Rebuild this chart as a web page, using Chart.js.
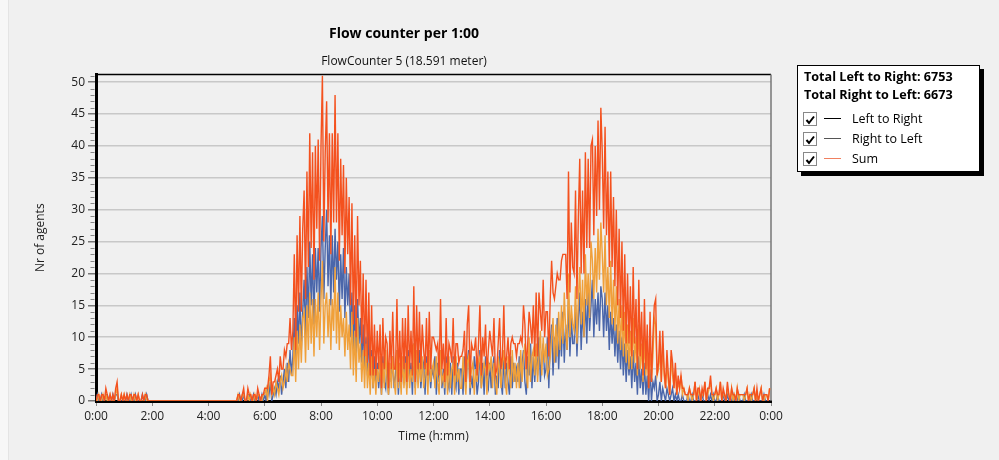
<!DOCTYPE html>
<html>
<head>
<meta charset="utf-8">
<title>Flow counter per 1:00</title>
<script src="https://cdn.jsdelivr.net/npm/chart.js@4.4.1/dist/chart.umd.min.js"></script>
<style>
  html, body { margin: 0; padding: 0; background: #f0f0f0; }
  body { width: 999px; height: 460px; position: relative; overflow: hidden; font-family: "Open Sans", sans-serif; color: #000; }
  #strip { position: absolute; left: 0; top: 0; width: 8px; height: 460px; background: #f7f7f7; border-right: 1px solid #e4e4e4; }
  #wrap { position: absolute; left: 0; top: 0; width: 999px; height: 460px; }
  .title { position: absolute; left: 204px; width: 400px; text-align: center; white-space: nowrap; }
  #t1 { top: 23px; font-weight: bold; font-size: 14px; line-height: 20px; }
  #t2 { top: 53px; font-size: 12px; line-height: 16px; color: #111; }
  #legend { position: absolute; left: 797px; top: 65px; width: 181px; height: 105px; background: #fff; border: 1px solid #000; box-shadow: 4px 4px 0 #000; font-size: 12px; }
  #legend .tot { position: absolute; left: 6px; font-weight: bold; font-size: 12.6px; line-height: 16px; white-space: nowrap; }
  #legend .row { position: absolute; left: 5px; height: 16px; width: 170px; }
  #legend .box { position: absolute; left: 0; top: 1px; width: 12px; height: 12px; border: 1px solid #888; background: #fff; }
  #legend .line { position: absolute; left: 21px; top: 7px; width: 17px; height: 1px; }
  #legend .lbl { position: absolute; left: 49px; top: 0; line-height: 16px; font-size: 12.5px; white-space: nowrap; }
</style>
</head>
<body>
<div id="strip"></div>
<div id="wrap"><canvas id="flowChart"></canvas></div>
<div class="title" id="t1">Flow counter per 1:00</div>
<div class="title" id="t2">FlowCounter 5 (18.591 meter)</div>
<div id="legend">
  <div class="tot" style="top:3px">Total Left to Right: 6753</div>
  <div class="tot" style="top:21px">Total Right to Left: 6673</div>
  <div class="row" style="top:45px"><div class="box"><svg width="12" height="12"><polyline points="2.5,6 5,9 10,2.5" fill="none" stroke="#000" stroke-width="2"/></svg></div><div class="line" style="background:#000"></div><div class="lbl">Left to Right</div></div>
  <div class="row" style="top:65px"><div class="box"><svg width="12" height="12"><polyline points="2.5,6 5,9 10,2.5" fill="none" stroke="#000" stroke-width="2"/></svg></div><div class="line" style="background:#555"></div><div class="lbl">Right to Left</div></div>
  <div class="row" style="top:85px"><div class="box"><svg width="12" height="12"><polyline points="2.5,6 5,9 10,2.5" fill="none" stroke="#000" stroke-width="2"/></svg></div><div class="line" style="background:#f08060"></div><div class="lbl">Sum</div></div>
</div>
<script>
// one value every 3 minutes, one line per hour (agents per minute)
const stepMinutes = 3;

const leftToRight = [
  0,1,0,0,1,0,0,1,1,0,0,0,1,0,1,1,0,0,0,0,
  0,0,1,0,0,1,0,0,1,0,0,0,0,1,0,0,1,0,0,0,
  0,0,0,0,0,0,0,0,0,0,0,0,0,0,0,0,0,0,0,0,
  0,0,0,0,0,0,0,0,0,0,0,0,0,0,0,0,0,0,0,0,
  0,0,0,0,0,0,0,0,0,0,0,0,0,0,0,0,0,0,0,0,
  0,0,1,0,0,1,0,0,1,1,0,0,1,0,0,1,0,0,1,0,
  1,0,2,1,3,0,1,2,1,3,2,4,1,3,5,2,6,3,8,4,
  7,13,5,15,9,17,8,14,19,10,21,13,25,15,23,12,24,17,24,14,
  24,29,16,24,30,18,26,15,26,17,27,19,25,14,23,16,24,13,21,15,
  20,10,17,8,15,7,16,9,13,6,12,5,10,4,11,3,8,2,7,3,
  6,2,5,1,7,3,2,6,1,5,3,7,2,4,8,1,5,2,6,3,
  7,2,8,3,6,1,9,2,7,3,8,2,5,6,1,7,3,6,2,5,
  4,7,1,6,3,8,2,5,1,7,3,2,6,1,7,3,2,6,1,5,
  5,1,7,2,6,8,1,4,2,7,5,1,3,8,2,6,1,7,3,2,
  6,2,5,7,1,4,2,8,3,1,7,2,6,3,1,7,2,6,3,5,
  3,7,2,6,8,3,1,7,4,9,2,7,3,8,4,10,3,7,9,4,
  5,10,2,9,12,4,10,6,13,5,11,7,14,6,12,8,16,7,13,9,
  9,15,7,13,17,8,14,10,16,9,18,11,15,19,10,16,12,17,11,18,
  16,10,17,11,15,8,14,9,13,7,12,6,11,5,10,4,9,3,8,4,
  7,2,8,3,6,1,7,2,5,1,6,1,4,0,5,0,3,2,4,0,
  1,3,0,2,1,0,2,1,0,1,2,0,1,0,1,0,0,1,0,0,
  0,1,0,0,1,0,0,0,1,0,0,1,0,0,0,1,0,1,0,1,
  0,0,1,0,0,0,1,0,0,1,0,0,0,1,0,0,0,1,0,0,
  0,1,0,0,0,0,1,0,0,0,1,0,0,0,0,1,0,0,0,0
];

const rightToLeft = [
  0,0,1,0,0,1,0,1,0,0,1,0,0,0,1,2,0,0,1,0,
  1,0,0,0,1,0,0,1,0,0,1,0,0,0,0,1,0,0,0,0,
  0,0,0,0,0,0,0,0,0,0,0,0,0,0,0,0,0,0,0,0,
  0,0,0,0,0,0,0,0,0,0,0,0,0,0,0,0,0,0,0,0,
  0,0,0,0,0,0,0,0,0,0,0,0,0,0,0,0,0,0,0,0,
  0,1,0,0,1,1,0,0,1,0,1,0,0,1,0,1,1,0,0,1,
  1,2,0,3,4,1,2,1,3,2,1,3,4,2,3,5,3,6,5,4,
  4,10,3,11,5,12,6,13,14,6,15,8,17,9,16,7,16,10,17,8,
  16,22,9,15,17,10,16,8,16,11,21,9,17,8,15,10,13,7,14,8,
  12,5,14,4,11,3,13,6,9,3,8,2,9,2,6,1,7,2,5,1,
  5,3,7,1,6,2,8,3,1,6,2,7,3,1,8,2,6,1,7,2,
  6,1,7,2,5,3,9,1,8,2,6,3,7,2,4,6,1,8,3,5,
  6,2,7,3,1,8,3,4,2,6,1,7,2,5,6,1,7,3,5,2,
  2,7,4,1,6,7,2,5,6,1,5,3,6,7,2,4,6,5,1,6,
  5,7,2,6,3,1,7,5,2,6,8,3,1,7,4,2,8,3,6,2,
  6,2,8,3,7,9,4,2,10,3,7,8,4,9,3,7,11,4,10,6,
  9,4,5,7,10,13,6,12,7,14,8,15,9,17,11,8,20,10,15,12,
  11,18,9,16,21,12,19,10,23,15,20,13,25,22,16,24,17,27,19,28,
  23,17,26,15,21,13,22,12,19,11,18,9,16,8,15,7,14,6,12,5,
  11,5,13,6,10,4,12,5,9,3,10,4,8,2,9,3,7,13,12,4,
  5,8,3,9,4,2,6,3,1,7,4,2,5,1,3,2,4,1,2,1,
  1,0,2,1,0,1,3,0,1,2,0,1,1,3,0,1,2,3,1,0,
  1,2,0,1,3,0,1,1,0,2,1,0,2,0,1,0,2,0,1,1,
  1,0,1,2,0,1,0,1,2,0,1,0,1,2,0,0,1,1,0,2
];

const tickLabels = ["0:00","2:00","4:00","6:00","8:00","10:00","12:00","14:00","16:00","18:00","20:00","22:00","0:00"];

const sum = leftToRight.map((v, i) => v + rightToLeft[i]);
const toPoints = (arr) => arr.map((v, i) => ({ x: i * stepMinutes, y: v }));

// top / right frame and the small minor ticks on the y axis
const frame = {
  id: "frame",
  beforeDatasetsDraw(chart) {
    const { ctx, chartArea: a, scales: { y } } = chart;
    ctx.save();
    ctx.strokeStyle = "#000";
    ctx.lineWidth = 1.5;
    ctx.beginPath();
    ctx.moveTo(a.left, a.top);
    ctx.lineTo(a.right, a.top);
    ctx.stroke();
    ctx.strokeStyle = "#777";
    ctx.beginPath();
    ctx.moveTo(a.right, a.top);
    ctx.lineTo(a.right, a.bottom);
    ctx.stroke();
    ctx.lineWidth = 1;
    ctx.strokeStyle = "#888";
    for (let v = 1; v <= 51; v++) {
      if (v % 5 === 0) continue;
      const py = Math.round(y.getPixelForValue(v)) + 0.5;
      ctx.beginPath();
      ctx.moveTo(a.left - 5.5, py);
      ctx.lineTo(a.left - 1.5, py);
      ctx.stroke();
    }
    ctx.restore();
  },
};

const font = { family: "'Open Sans', sans-serif", size: 12 };

new Chart(document.getElementById("flowChart"), {
  type: "line",
  data: {
    datasets: [
      { label: "Sum", data: toPoints(sum), borderColor: "#f4511e", borderWidth: 1.4 },
      { label: "Right to Left", data: toPoints(rightToLeft), borderColor: "#f0a03a", borderWidth: 1.4 },
      { label: "Left to Right", data: toPoints(leftToRight), borderColor: "#4a66aa", borderWidth: 1.4 },
    ],
  },
  options: {
    responsive: true,
    maintainAspectRatio: false,
    animation: false,
    elements: { point: { radius: 0 }, line: { tension: 0 } },
    layout: { padding: { top: 74.5, right: 228, bottom: 9, left: 0 } },
    plugins: { legend: { display: false }, tooltip: { enabled: false } },
    scales: {
      x: {
        type: "linear",
        min: 0,
        max: 1440,
        afterFit: (s) => { s.height = 50; },
        ticks: {
          stepSize: 120,
          autoSkip: false,
          maxRotation: 0,
          padding: 3,
          color: "#222",
          font: font,
          callback: (v) => tickLabels[v / 120],
        },
        grid: { drawOnChartArea: false, tickLength: 5, tickColor: "#888" },
        border: { color: "#000", width: 3 },
        title: { display: true, text: "Time (h:mm)", color: "#222", font: font, padding: { top: 0, bottom: 7 } },
      },
      y: {
        min: 0,
        max: 51.2,
        afterFit: (s) => { s.width = 96; },
        ticks: { stepSize: 5, includeBounds: false, padding: 3, color: "#222", font: font },
        grid: { color: "#c8c8c8", lineWidth: 1.5, tickLength: 8, tickColor: "#777" },
        border: { color: "#000", width: 3 },
        title: { display: true, text: "Nr of agents", color: "#222", font: font, padding: { top: 33, bottom: 0 } },
      },
    },
  },
  plugins: [frame],
});
</script>
</body>
</html>
